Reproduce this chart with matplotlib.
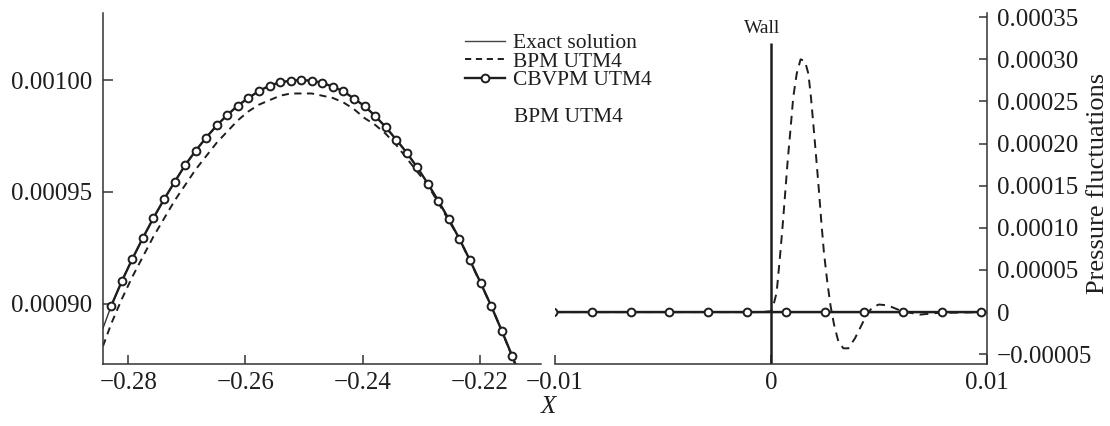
import matplotlib
matplotlib.use("Agg")
import matplotlib.pyplot as plt
from matplotlib.lines import Line2D

plt.rcParams['font.family'] = ['Liberation Serif', 'DejaVu Serif']

# ---- left panel: zoom on the pulse peak ----
cb_x = [-0.2829, -0.2811, -0.2793, -0.2775, -0.2757, -0.2739, -0.2721, -0.2703,
        -0.2685, -0.2667, -0.2649, -0.2631, -0.2613, -0.2595, -0.2577, -0.2559,
        -0.2541, -0.2523, -0.2505, -0.2487, -0.2469, -0.2451, -0.2433, -0.2415,
        -0.2397, -0.2379, -0.2361, -0.2343, -0.2325, -0.2307, -0.2289, -0.2271,
        -0.2253, -0.2235, -0.2217, -0.2199, -0.2181, -0.2163, -0.2145]
cb_y = [0.000899, 0.000910, 0.000920, 0.0009294, 0.0009383, 0.0009466, 0.0009544,
        0.0009619, 0.0009684, 0.0009743, 0.0009797, 0.0009844, 0.0009886, 0.000992,
        0.0009951, 0.0009975, 0.000999, 0.0009997, 0.0010000, 0.0009997, 0.0009988,
        0.0009970, 0.000995, 0.0009917, 0.0009884, 0.0009840, 0.0009790, 0.0009734,
        0.0009675, 0.0009609, 0.0009537, 0.0009459, 0.0009377, 0.0009289, 0.0009193,
        0.0009093, 0.0008990, 0.0008879, 0.0008765]

ex_x = [-0.2843] + cb_x + [-0.2127]
ex_y = [0.000889] + cb_y + [0.0008645]

bpm_x = [-0.2843] + cb_x + [-0.2127]
bpm_y = [0.000881, 0.000891, 0.000902, 0.000912, 0.000921, 0.000930, 0.000938,
         0.000946, 0.000953, 0.000960, 0.000966, 0.000972, 0.000977, 0.000982,
         0.000986, 0.000989, 0.000991, 0.000993, 0.000994, 0.000994, 0.000994,
         0.000993, 0.000992, 0.000990, 0.000987, 0.000983, 0.000980, 0.000976,
         0.000971, 0.000965, 0.000959, 0.000953, 0.000945, 0.000937, 0.000929,
         0.000919, 0.000909, 0.000899, 0.000888, 0.000876, 0.000865]

# ---- right panel: near the wall ----
ex2_x = [-0.01, 0.01]
ex2_y = [0.0, 0.0]
cb2_x = [-0.0101, -0.0083, -0.0065, -0.0047, -0.0029, -0.0011, 0.0007, 0.0025,
         0.0043, 0.0061, 0.0079, 0.0097]
cb2_y = [0.0] * len(cb2_x)
bpm2_x = [-0.0100, -0.0060, -0.0020, -0.0005, 0.0000, 0.0001, 0.00026, 0.00042,
          0.00054, 0.00065, 0.00077, 0.00091, 0.00103, 0.00119, 0.00137, 0.00157,
          0.00173, 0.00185, 0.00196, 0.00208, 0.00221, 0.00233, 0.00245, 0.00261,
          0.00276, 0.00292, 0.00312, 0.00335, 0.00358, 0.00389, 0.00420, 0.00443,
          0.00470, 0.00500, 0.00540, 0.00607, 0.00690, 0.00770, 0.01000]
bpm2_y = [0.0, 0.0, 0.0, 0.0, 0.000001, 0.000007, 0.000023, 0.000067,
          0.000103, 0.000139, 0.000179, 0.000219, 0.000255, 0.000283, 0.000300, 0.000298,
          0.000283, 0.000255, 0.000223, 0.000187, 0.000147, 0.000107, 0.000071, 0.000035,
          0.000007, -0.000015, -0.000035, -0.000043, -0.000043, -0.000031, -0.000015, -0.000003,
          0.000006, 0.000009, 0.000008, 0.000001, -0.000003, -0.000001, 0.0]

wall_x = 0.0
wall_top = 0.000319

left_xticks = [-0.28, -0.26, -0.24, -0.22]
left_xlabels = ['\u22120.28', '\u22120.26', '\u22120.24', '\u22120.22']
left_yticks = [0.00090, 0.00095, 0.00100]
left_ylabels = ['0.00090', '0.00095', '0.00100']
right_xticks = [-0.01, 0.0, 0.01]
right_xlabels = ['\u22120.01', '0', '0.01']
right_yticks = [-0.00005, 0.0, 0.00005, 0.00010, 0.00015, 0.00020, 0.00025, 0.00030, 0.00035]
right_ylabels = ['\u22120.00005', '0', '0.00005', '0.00010', '0.00015', '0.00020',
                 '0.00025', '0.00030', '0.00035']

ink = '#1e1e1e'
tick_fs = 18

fig = plt.figure(figsize=(11.1, 4.26), dpi=100)
W, H = 1110, 426
ax1 = fig.add_axes([103 / W, 1 - 364 / H, 438 / W, 351 / H])
ax2 = fig.add_axes([555 / W, 1 - 364 / H, 432 / W, 351 / H])
ax2.patch.set_visible(False)

dash = (0, (3.7, 2.8))
mk = dict(marker='o', markersize=5.6, markerfacecolor='white',
          markeredgecolor=ink, markeredgewidth=1.4)

ax1.plot(ex_x, ex_y, color='#333333', lw=1.0)
ax1.plot(bpm_x, bpm_y, color=ink, lw=1.4, linestyle=dash)
ax1.plot(cb_x + [-0.2127], cb_y + [0.0008645], color=ink, lw=1.7)
ax1.plot(cb_x, cb_y, linestyle='none', **mk)
ax1.set_xlim(-0.2843, -0.2096)
ax1.set_ylim(0.000873, 0.00103)

ax2.plot(ex2_x, ex2_y, color='#333333', lw=1.0)
ax2.plot(bpm2_x, bpm2_y, color=ink, lw=1.4, linestyle=(0, (4.5, 3.2)))
ax2.plot(cb2_x, cb2_y, color=ink, lw=1.7, **mk)
ax2.set_xlim(-0.01, 0.01)
ax2.set_ylim(-0.0000616, 0.000355)
ax2.vlines(wall_x, -0.0000616, wall_top, color=ink, lw=1.8)
ax2.text(-0.0004, 0.000337, 'Wall', ha='center', va='center', fontsize=14, color=ink)

for ax in (ax1, ax2):
    for s in ax.spines.values():
        s.set_linewidth(1.1)
        s.set_color('#333333')
    ax.spines['top'].set_visible(False)
    ax.tick_params(direction='in', colors='#333333', labelcolor=ink,
                   labelsize=tick_fs, width=1.1)

ax1.spines['right'].set_visible(False)
ax1.set_xticks(left_xticks, left_xlabels)
ax1.set_yticks(left_yticks, left_ylabels)
ax1.tick_params(axis='x', length=6.5, pad=6)
ax1.tick_params(axis='y', length=7, pad=8)

ax2.spines['left'].set_visible(False)
ax2.yaxis.tick_right()
ax2.set_xticks(right_xticks, right_xlabels)
ax2.set_yticks(right_yticks, right_ylabels)
ax2.tick_params(axis='x', length=6.5, pad=6)
ax2.tick_params(axis='y', length=6, pad=7)

fig.text(1098 / W, 1 - 183 / H, 'Pressure fluctuations', rotation=90,
         ha='center', va='center', fontsize=19, color=ink)
fig.text(548 / W, 1 - 407 / H, 'X', ha='center', va='center', fontsize=18,
         style='italic', color=ink)

handles = [
    Line2D([], [], color='#444444', lw=1.0),
    Line2D([], [], color=ink, lw=1.4, linestyle=(0, (3.2, 2.4))),
    Line2D([], [], color=ink, lw=1.7, **mk),
]
labels = ['Exact solution', 'BPM UTM4', 'CBVPM UTM4']
fig.legend(handles, labels, loc='upper left', bbox_to_anchor=(465 / W, 1 - 33 / H),
           bbox_transform=fig.transFigure, frameon=False, fontsize=15.5,
           borderpad=0, borderaxespad=0, handlelength=1.85, handletextpad=0.4,
           labelspacing=-0.07, numpoints=1, labelcolor=ink)
fig.text(514 / W, 1 - 117 / H, 'BPM UTM4', ha='left', va='center', fontsize=15.5,
         color=ink)

fig.savefig('out.png', dpi=100)
